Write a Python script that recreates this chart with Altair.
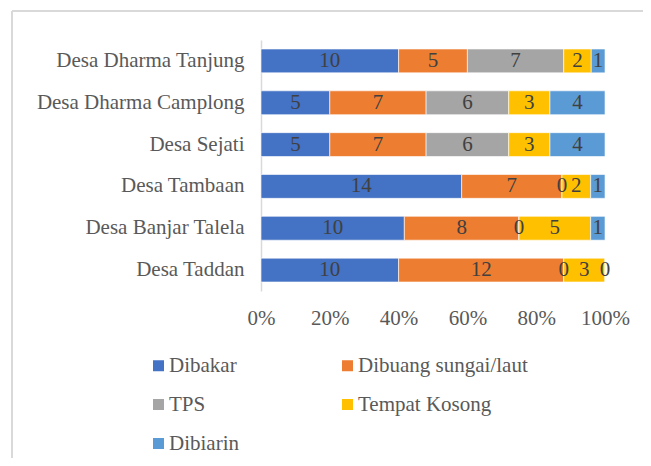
import altair as alt
import pandas as pd

desa = ["Desa Dharma Tanjung", "Desa Dharma Camplong", "Desa Sejati",
        "Desa Tambaan", "Desa Banjar Talela", "Desa Taddan"]
categories = ["Dibakar", "Dibuang sungai/laut", "TPS", "Tempat Kosong", "Dibiarin"]
colors = ["#4472C4", "#ED7D31", "#A5A5A5", "#FFC000", "#5B9BD5"]

dibakar = [10, 5, 5, 14, 10, 10]
dibuang = [5, 7, 7, 7, 8, 12]
tps = [7, 6, 6, 0, 0, 0]
tempat_kosong = [2, 3, 3, 2, 5, 3]
dibiarin = [1, 4, 4, 1, 1, 0]

series = [dibakar, dibuang, tps, tempat_kosong, dibiarin]
rows = []
for ci, (cat, vals) in enumerate(zip(categories, series)):
    for d, v in zip(desa, vals):
        rows.append({"desa": d, "cat": cat, "ord": ci, "value": v})
df = pd.DataFrame(rows)

FONT = "Liberation Serif"
FS = 21

y_enc = alt.Y("desa:N", sort=desa,
              scale=alt.Scale(paddingInner=0.43, paddingOuter=0.215),
              axis=alt.Axis(title=None, ticks=False, domain=True, domainColor="#d9d9d9",
                            domainWidth=1.5, labelFont=FONT, labelFontSize=FS,
                            labelColor="#595959", labelPadding=17, labelLimit=300))

base = alt.Chart(df)

bars = base.mark_bar(stroke="white", strokeWidth=0.6).encode(
    x=alt.X("value:Q", stack="normalize",
            scale=alt.Scale(domain=[0, 1], nice=False),
            axis=alt.Axis(title=None, format="%", values=[0, 0.2, 0.4, 0.6, 0.8, 1.0],
                          ticks=False, domain=False, grid=False, labelFont=FONT,
                          labelFontSize=FS, labelColor="#595959", labelPadding=16,
                          labelFlush=False)),
    y=y_enc,
    color=alt.Color("cat:N", sort=categories,
                    scale=alt.Scale(domain=categories, range=colors),
                    legend=alt.Legend(title=None, orient="none", legendX=-113, legendY=315,
                                      direction="horizontal",
                                      columns=2, columnPadding=98, rowPadding=17,
                                      symbolType="square", symbolSize=121,
                                      symbolStrokeWidth=0, labelFont=FONT,
                                      labelFontSize=FS, labelColor="#595959",
                                      labelOffset=0, labelLimit=300)),
    order=alt.Order("ord:Q", sort="ascending"),
)

labels = base.transform_stack(
    stack="value", groupby=["desa"], as_=["x0", "x1"], offset="normalize",
    sort=[alt.SortField("ord", order="ascending")]
).transform_calculate(
    mid="(datum.x0 + datum.x1) / 2"
).mark_text(font=FONT, fontSize=FS, color="#404040", baseline="middle").encode(
    x=alt.X("mid:Q"),
    y=alt.Y("desa:N", sort=desa),
    text=alt.Text("value:Q"),
)

frame_data = alt.Data(values=[{"a": 1}])
frame_top = alt.Chart(frame_data).mark_rule(
    stroke="#d9d9d9", strokeWidth=2, clip=False
).encode(x=alt.value(-249), x2=alt.value(382), y=alt.value(-29))
frame_left = alt.Chart(frame_data).mark_rule(
    stroke="#d9d9d9", strokeWidth=2, clip=False
).encode(x=alt.value(-249), y=alt.value(-29), y2=alt.value(418))

chart = alt.layer(frame_top, frame_left, bars, labels).properties(
    width=344, height=251,
    autosize=alt.AutoSizeParams(type="none"),
    padding={"left": 253, "top": 32, "right": 38, "bottom": 167},
).configure_view(stroke=None)

chart.save("out.html", embed_options={"renderer": "svg", "actions": False})
